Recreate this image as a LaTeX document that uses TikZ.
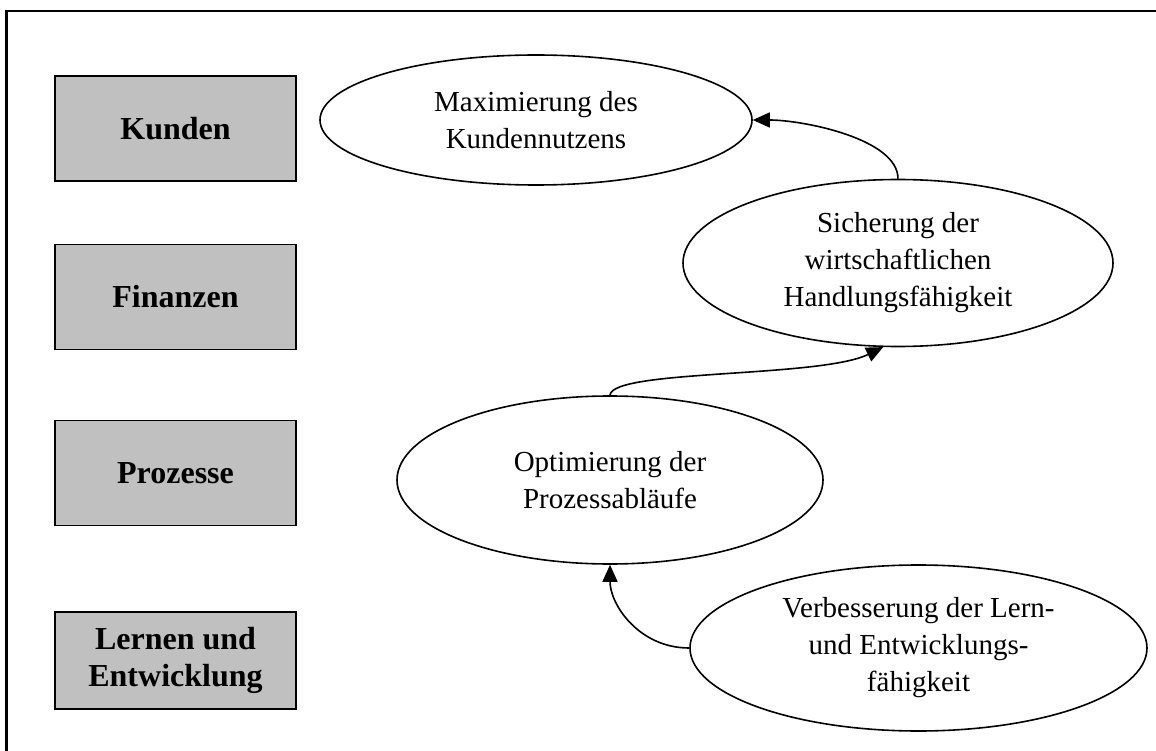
\documentclass[tikz,border=0pt]{standalone}
\usepackage{fontspec}
\setmainfont{Liberation Serif}
\usetikzlibrary{shapes.geometric,arrows.meta}
\definecolor{boxgray}{HTML}{C0C0C0}
\newcommand\persfont{\fontsize{32}{37}\selectfont\bfseries}
\newcommand\goalfont{\fontsize{29}{37}\selectfont}
\tikzset{
  perspective/.style={draw, line width=1.6pt, fill=boxgray, minimum width=241pt,
    minimum height=105pt, inner sep=0pt, align=center, font=\persfont},
  goal/.style={ellipse, draw, line width=1.6pt, inner sep=0pt, align=center, font=\goalfont},
  link/.style={line width=1.6pt, -{Triangle[length=17pt,width=15pt]}}
}
\begin{document}
\begin{tikzpicture}[x=1pt, y=-1pt]
  \useasboundingbox (0,0) rectangle (1156,751);
  % outer frame (left and top edges)
  \draw[line width=2.2pt] (6.5,751) -- (6.5,11) -- (1156,11);

  % perspectives
  \node[perspective] (kunden)   at (175.5,128.5) {Kunden};
  \node[perspective] (finanzen) at (175.5,297)   {Finanzen};
  \node[perspective] (prozesse) at (175.5,473)   {Prozesse};
  \node[perspective, minimum height=97pt] (lernen) at (175.5,660.5) {Lernen und\\Entwicklung};

  % strategic goals
  \node[goal, minimum width=432pt, minimum height=130pt] (maxi) at (536,120)
    {Maximierung des\\Kundennutzens};
  \node[goal, minimum width=430pt, minimum height=167pt] (sich) at (898,263)
    {Sicherung der\\wirtschaftlichen\\Handlungsfähigkeit};
  \node[goal, minimum width=426pt, minimum height=168pt] (opt) at (610,480)
    {Optimierung der\\Prozessabläufe};
  \node[goal, minimum width=457pt, minimum height=166pt] (verb) at (918.5,648)
    {Verbesserung der Lern-\\und Entwicklungs-\\fähigkeit};

  % cause-and-effect links
  \draw[link] (sich.north) .. controls +(0,-40) and +(50,0) .. (maxi.east);
  \draw[link] (opt.north) .. controls +(2,-26) and (820,378) .. (sich.260);
  \draw[link] (verb.west) .. controls +(-50,0) and +(0,40) .. (opt.south);
\end{tikzpicture}
\end{document}
